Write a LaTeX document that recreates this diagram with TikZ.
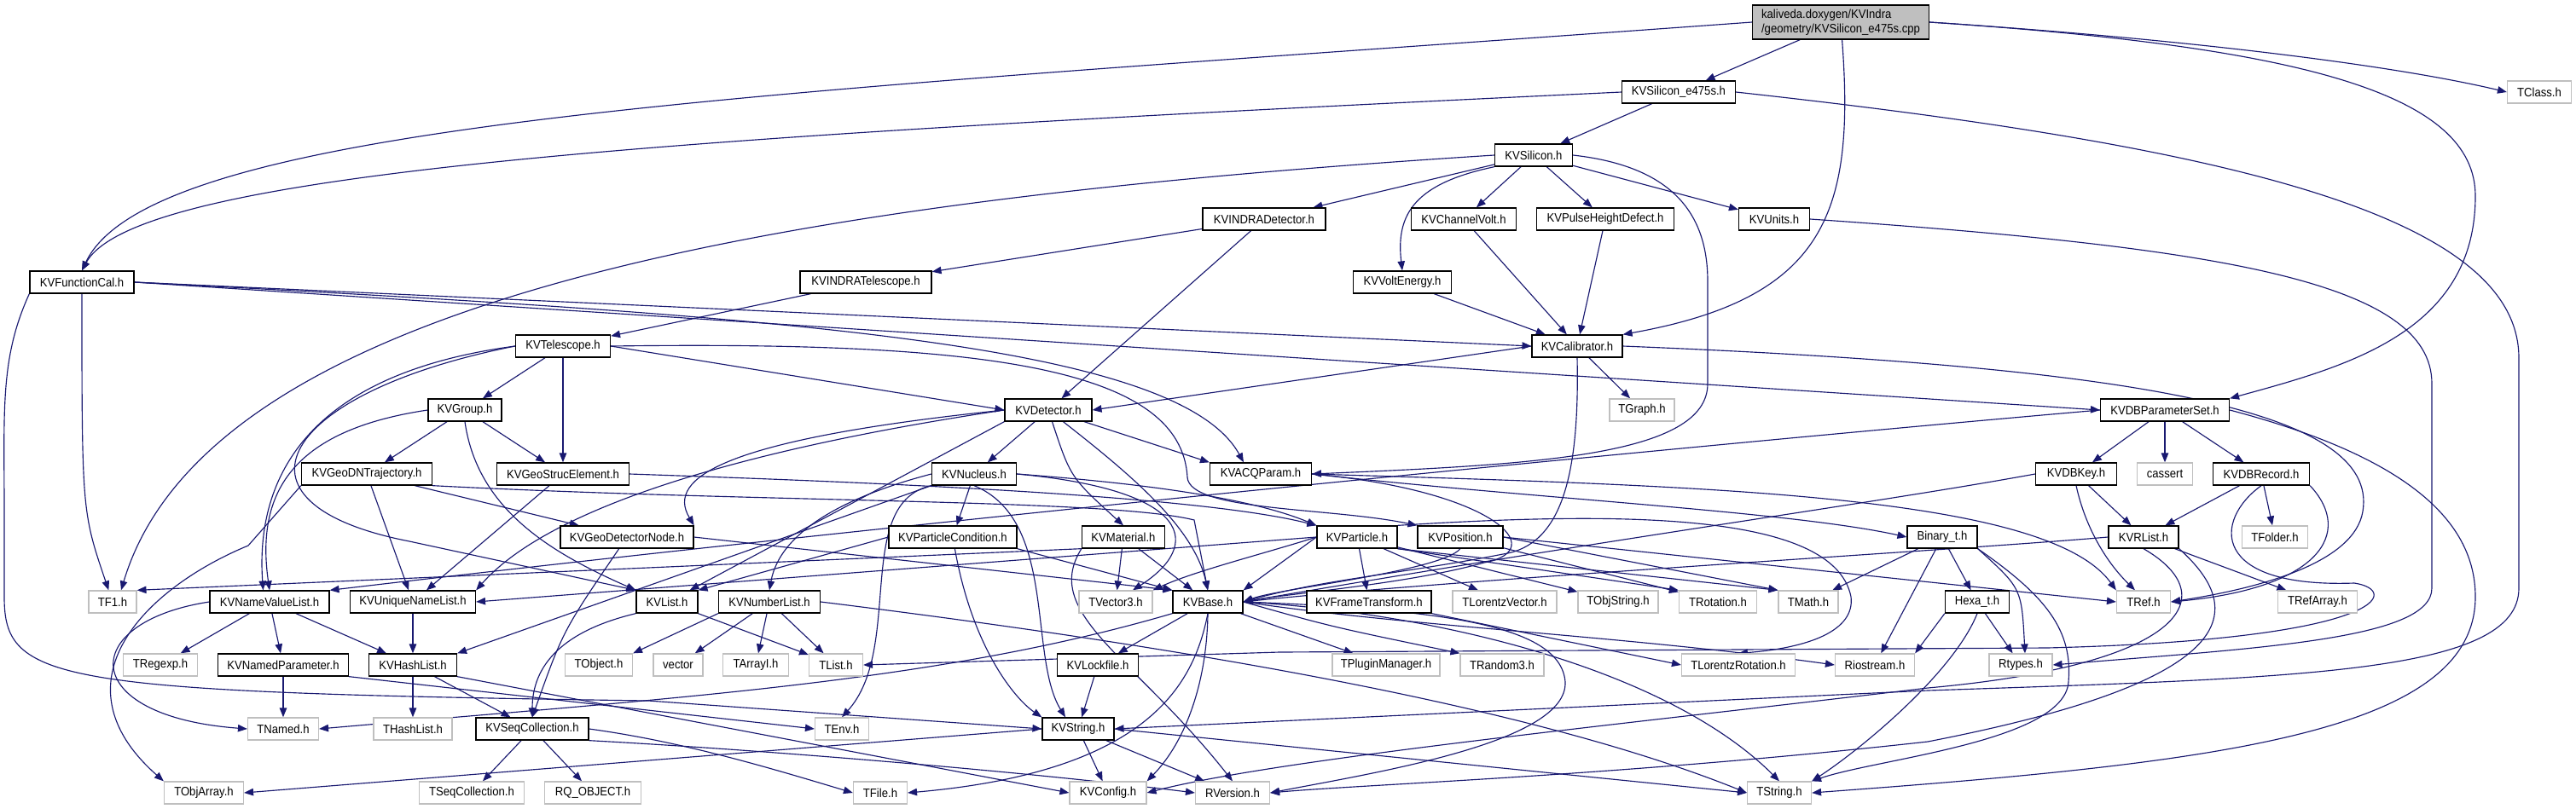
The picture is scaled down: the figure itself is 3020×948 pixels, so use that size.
\documentclass[tikz,border=0pt]{standalone}
\usepackage{fontspec}
\setmainfont{Liberation Sans}[FakeStretch=0.91]
\usetikzlibrary{arrows.meta}
\definecolor{edgeblue}{RGB}{25,25,112}
\definecolor{boxgray}{RGB}{191,191,191}
\pgfdeclarelayer{background}
\pgfsetlayers{background,main}

\begin{document}
\begin{tikzpicture}[
    x=0.02cm, y=-0.02cm,
    hdr/.style={rectangle, draw=black, line width=0.75pt, fill=white, minimum height=0.52cm, inner xsep=1pt, inner ysep=0pt, font=\fontsize{8.2}{9.5}\selectfont},
    ext/.style={hdr, draw=boxgray},
    src/.style={hdr, fill=boxgray, align=left, minimum height=0.8cm},
    dep/.style={-{Triangle[length=6.2pt,width=4.8pt]}, edgeblue, line width=0.65pt}
  ]
  \useasboundingbox (0,0) rectangle (3020,948);

  % top of the graph
  \node[src, minimum width=4.14cm] (root) at (2158,26) {kaliveda.doxygen/KVIndra\\/geometry/KVSilicon\_e475s.cpp};
  \node[hdr, minimum width=2.66cm] (sile) at (1968,108) {KVSilicon\_e475s.h};
  \node[ext, minimum width=1.50cm] (tclass) at (2977,108) {TClass.h};
  \node[hdr, minimum width=1.82cm] (silicon) at (1798,182) {KVSilicon.h};
  \node[hdr, minimum width=2.88cm] (indradet) at (1482,257) {KVINDRADetector.h};
  \node[hdr, minimum width=2.46cm] (chvolt) at (1716,257) {KVChannelVolt.h};
  \node[hdr, minimum width=3.22cm] (phd) at (1882,257) {KVPulseHeightDefect.h};
  \node[hdr, minimum width=1.66cm] (units) at (2080,257) {KVUnits.h};
  \node[hdr, minimum width=2.44cm] (funccal) at (96,331) {KVFunctionCal.h};
  \node[hdr, minimum width=3.08cm] (indratel) at (1015,331) {KVINDRATelescope.h};
  \node[hdr, minimum width=2.30cm] (voltene) at (1644,331) {KVVoltEnergy.h};
  \node[hdr, minimum width=2.22cm] (telescope) at (660,406) {KVTelescope.h};
  \node[hdr, minimum width=2.12cm] (calib) at (1849,406) {KVCalibrator.h};
  \node[hdr, minimum width=1.72cm] (group) at (545,481) {KVGroup.h};
  \node[hdr, minimum width=2.04cm] (detector) at (1229,481) {KVDetector.h};
  \node[ext, minimum width=1.52cm] (tgraph) at (1925,481) {TGraph.h};
  \node[hdr, minimum width=3.02cm] (dbparset) at (2538,481) {KVDBParameterSet.h};

  % middle rows
  \node[hdr, minimum width=3.06cm] (dntraj) at (430,556) {KVGeoDNTrajectory.h};
  \node[hdr, minimum width=3.10cm] (strucel) at (660,556) {KVGeoStrucElement.h};
  \node[hdr, minimum width=1.98cm] (nucleus) at (1142,556) {KVNucleus.h};
  \node[hdr, minimum width=2.38cm] (acqpar) at (1478,556) {KVACQParam.h};
  \node[hdr, minimum width=1.90cm] (dbkey) at (2434,556) {KVDBKey.h};
  \node[ext, minimum width=1.30cm] (cassert) at (2538,556) {cassert};
  \node[hdr, minimum width=2.26cm] (dbrec) at (2651,556) {KVDBRecord.h};
  \node[hdr, minimum width=3.12cm] (detnode) at (735,630) {KVGeoDetectorNode.h};
  \node[hdr, minimum width=3.00cm] (partcond) at (1117,630) {KVParticleCondition.h};
  \node[hdr, minimum width=1.94cm] (material) at (1317,630) {KVMaterial.h};
  \node[hdr, minimum width=1.88cm] (particle) at (1591,630) {KVParticle.h};
  \node[hdr, minimum width=2.00cm] (position) at (1712,630) {KVPosition.h};
  \node[hdr, minimum width=1.64cm] (binary) at (2277,630) {Binary\_t.h};
  \node[hdr, minimum width=1.64cm] (rlist) at (2513,630) {KVRList.h};
  \node[ext, minimum width=1.54cm] (tfolder) at (2667,630) {TFolder.h};

  \node[ext, minimum width=1.12cm] (tf1) at (132,706) {TF1.h};
  \node[hdr, minimum width=2.80cm] (namevl) at (316,706) {KVNameValueList.h};
  \node[hdr, minimum width=2.94cm] (uniqnl) at (484,706) {KVUniqueNameList.h};
  \node[hdr, minimum width=1.44cm] (kvlist) at (782,706) {KVList.h};
  \node[hdr, minimum width=2.38cm] (numlist) at (902,706) {KVNumberList.h};
  \node[ext, minimum width=1.72cm] (tvector3) at (1308,706) {TVector3.h};
  \node[hdr, minimum width=1.64cm] (kvbase) at (1416,706) {KVBase.h};
  \node[hdr, minimum width=2.92cm] (frametr) at (1605,706) {KVFrameTransform.h};
  \node[ext, minimum width=2.44cm] (tlorvec) at (1764,706) {TLorentzVector.h};
  \node[ext, minimum width=1.88cm] (tobjstr) at (1897,706) {TObjString.h};
  \node[ext, minimum width=1.82cm] (trot) at (2014,706) {TRotation.h};
  \node[ext, minimum width=1.40cm] (tmath) at (2120,706) {TMath.h};
  \node[hdr, minimum width=1.50cm] (hexa) at (2318,706) {Hexa\_t.h};
  \node[ext, minimum width=1.26cm] (tref) at (2513,706) {TRef.h};
  \node[ext, minimum width=1.86cm] (trefarr) at (2717,706) {TRefArray.h};

  % bottom rows
  \node[ext, minimum width=1.74cm] (tregexp) at (188,780) {TRegexp.h};
  \node[hdr, minimum width=3.06cm] (namedpar) at (332,780) {KVNamedParameter.h};
  \node[hdr, minimum width=2.06cm] (hashlist) at (484,780) {KVHashList.h};
  \node[ext, minimum width=1.58cm] (tobject) at (702,780) {TObject.h};
  \node[ext, minimum width=1.16cm] (vector) at (795,780) {vector};
  \node[ext, minimum width=1.54cm] (tarrayi) at (886,780) {TArrayI.h};
  \node[ext, minimum width=1.26cm] (tlist) at (980,780) {TList.h};
  \node[hdr, minimum width=1.90cm] (lockfile) at (1287,780) {KVLockfile.h};
  \node[ext, minimum width=2.52cm] (tplugin) at (1625,780) {TPluginManager.h};
  \node[ext, minimum width=1.96cm] (trandom) at (1761,780) {TRandom3.h};
  \node[ext, minimum width=2.66cm] (tlorrot) at (2038,780) {TLorentzRotation.h};
  \node[ext, minimum width=1.86cm] (riostr) at (2198,780) {Riostream.h};
  \node[ext, minimum width=1.48cm] (rtypes) at (2369,780) {Rtypes.h};
  \node[ext, minimum width=1.66cm] (tnamed) at (332,855) {TNamed.h};
  \node[ext, minimum width=1.84cm] (thashl) at (484,855) {THashList.h};
  \node[hdr, minimum width=2.64cm] (seqcoll) at (624,855) {KVSeqCollection.h};
  \node[ext, minimum width=1.26cm] (tenv) at (987,855) {TEnv.h};
  \node[hdr, minimum width=1.68cm] (kvstring) at (1264,855) {KVString.h};
  \node[ext, minimum width=1.86cm] (tobjarr) at (239,930) {TObjArray.h};
  \node[ext, minimum width=2.46cm] (tseqcoll) at (553,930) {TSeqCollection.h};
  \node[ext, minimum width=2.26cm] (rqobj) at (695,930) {RQ\_OBJECT.h};
  \node[ext, minimum width=1.26cm] (tfile) at (1032,930) {TFile.h};
  \node[ext, minimum width=1.80cm] (kvconfig) at (1299,930) {KVConfig.h};
  \node[ext, minimum width=1.74cm] (rversion) at (1445,930) {RVersion.h};
  \node[ext, minimum width=1.50cm] (tstring) at (2086,930) {TString.h};

  \begin{pgfonlayer}{background}
  % source file
  \draw[dep] (root) -- (sile);
  \draw[dep] (root.east) .. controls (2550,45) and (2800,75) .. (tclass.west);
  \draw[dep] (root.west) .. controls (900,110) and (180,140) .. (funccal.north);
  \draw[dep] (root) .. controls (2175,250) and (2140,350) .. (calib.north east);
  \draw[dep] (root.east) .. controls (2700,55) and (2902,110) .. (2902,230) .. controls (2902,390) and (2750,430) .. (dbparset.north east);
  % KVSilicon_e475s.h
  \draw[dep] (sile) -- (silicon);
  \draw[dep] (sile.west) .. controls (800,160) and (160,200) .. (funccal.north);
  \draw[dep] (sile.east) .. controls (2600,170) and (2953,250) .. (2953,420) -- (2953,690) .. controls (2953,790) and (2700,795) .. (2260,810) -- (kvstring.east);
  % KVSilicon.h
  \draw[dep] (silicon) -- (indradet);
  \draw[dep] (silicon) -- (chvolt);
  \draw[dep] (silicon) -- (phd);
  \draw[dep] (silicon) -- (units);
  \draw[dep] (silicon.south west) .. controls (1660,215) and (1636,250) .. (voltene.north);
  \draw[dep] (silicon.west) .. controls (1000,230) and (250,330) .. ([xshift=0.2cm]tf1.north);
  \draw[dep] (silicon.east) .. controls (1960,195) and (2002,250) .. (2002,330) -- (2002,450) .. controls (2002,535) and (1800,545) .. (acqpar.east);
  \draw[dep] (indradet) -- (indratel);
  \draw[dep] (indradet) -- (detector);
  \draw[dep] (chvolt) -- (calib);
  \draw[dep] (phd) -- (calib);
  \draw[dep] (voltene) -- (calib);
  \draw[dep] (units.east) .. controls (2600,290) and (2851,330) .. (2851,450) -- (2851,690) .. controls (2851,750) and (2650,760) .. (rtypes.east);
  \draw[dep] (indratel) -- (telescope);
  % KVFunctionCal.h
  \draw[dep] (funccal) .. controls (96,600) .. (tf1);
  \draw[dep] (funccal.east) -- (calib.west);
  \draw[dep] (funccal.east) -- (dbparset.west);
  \draw[dep] (funccal.east) .. controls (900,370) and (1380,400) .. ([xshift=-0.4cm]acqpar.north);
  \draw[dep] (funccal.south west) .. controls (0,420) and (5,480) .. (5,600) -- (5,700) .. controls (5,800) and (60,812) .. (760,822) -- (kvstring.west);
  % KVTelescope.h
  \draw[dep] (telescope) -- (group);
  \draw[dep] (telescope) -- (strucel);
  \draw[dep] (telescope.east) -- (detector.west);
  \draw[dep] (telescope.west) .. controls (350,440) and (300,570) .. ([xshift=-0.15cm]namevl.north);
  \draw[dep] (telescope.west) .. controls (330,460) and (250,590) .. (480,635) -- (kvlist.north west);
  \draw[dep] (telescope.east) .. controls (1150,400) and (1385,430) .. (1392,560) .. controls (1395,600) and (1560,595) .. (position.north west);
  % KVGroup.h
  \draw[dep] (group) -- (dntraj);
  \draw[dep] (group) -- (strucel);
  \draw[dep] (group.west) .. controls (340,505) and (300,580) .. (namevl.north);
  \draw[dep] (group.south) .. controls (560,600) and (650,650) .. (kvlist.north west);
  % KVDetector.h
  \draw[dep] (detector) -- (nucleus);
  \draw[dep] (detector) -- (acqpar.north west);
  \draw[dep] (detector.west) .. controls (850,515) and (780,560) .. (detnode.north east);
  \draw[dep] (detector.west) .. controls (850,530) and (640,600) .. (uniqnl.north east);
  \draw[dep] (detector.south west) -- ([xshift=-0.2cm]kvlist.north east);
  \draw[dep] (detector) .. controls (1255,560) .. (material.north);
  \draw[dep] (detector) .. controls (1330,560) and (1400,620) .. (kvbase.north);
  % KVCalibrator.h
  \draw[dep] (calib) -- (tgraph);
  \draw[dep] (calib.west) -- (detector.east);
  \draw[dep] (calib.south) .. controls (1852,560) and (1830,640) .. (1762,650) .. controls (1650,672) and (1550,680) .. (kvbase.east);
  \draw[dep] (calib.east) .. controls (2500,430) and (2790,480) .. (2770,600) .. controls (2760,660) and (2650,690) .. (tref.east);
  % data base classes
  \draw[dep] (dbparset) -- (dbkey);
  \draw[dep] (dbparset) -- (cassert);
  \draw[dep] (dbparset) -- (dbrec);
  \draw[dep] (dbparset.east) .. controls (2800,530) and (2902,600) .. (2902,700) .. controls (2902,860) and (2600,895) .. (tstring.east);
  \draw[dep] (dbparset.west) .. controls (1900,530) and (1000,620) .. (namevl.north east);
  \draw[dep] (dbkey) -- (rlist);
  \draw[dep] (dbkey.south) .. controls (2445,620) and (2470,660) .. ([xshift=-0.2cm]tref.north);
  \draw[dep] (dbkey.west) .. controls (2200,590) and (1900,630) .. (kvbase.east);
  \draw[dep] (dbrec) -- (rlist);
  \draw[dep] (dbrec) -- (tfolder);
  \draw[dep] (dbrec.south east) .. controls (2760,625) and (2720,690) .. (tref.east);
  \draw[dep] (dbrec.south) .. controls (2595,610) and (2590,690) .. (2760,684) .. controls (2815,692) and (2800,750) .. (2400,760) -- (1500,765) -- (tlist.east);
  \draw[dep] (rlist) -- (trefarr);
  \draw[dep] (rlist.west) .. controls (2300,645) and (1700,680) .. (kvbase.east);
  \draw[dep] (rlist.south) .. controls (2610,700) and (2560,780) .. (2260,807) .. controls (1900,850) and (1500,890) .. (kvconfig.east);
  \draw[dep] (rlist.south east) .. controls (2640,720) and (2620,800) .. (2260,870) .. controls (1900,910) and (1600,920) .. (rversion.east);
  % Binary_t.h, Hexa_t.h
  \draw[dep] (binary) -- (hexa);
  \draw[dep] (binary) -- (tmath);
  \draw[dep] (binary) -- (riostr);
  \draw[dep] (binary.south east) .. controls (2370,690) .. ([xshift=0.1cm]rtypes.north);
  \draw[dep] (binary.south east) .. controls (2400,700) and (2430,740) .. (2425,800) .. controls (2420,870) and (2200,890) .. (tstring.north east);
  \draw[dep] (hexa) -- (rtypes);
  \draw[dep] (hexa.south west) -- (riostr.north east);
  \draw[dep] (hexa.south) .. controls (2290,790) and (2180,880) .. (tstring.north east);
  % KVACQParam.h
  \draw[dep] (acqpar.east) .. controls (1750,575) and (1820,645) .. (1740,660) .. controls (1650,685) and (1520,695) .. (kvbase.east);
  \draw[dep] (acqpar.east) .. controls (2000,570) and (2400,580) .. (tref.north west);
  \draw[dep] (acqpar.east) .. controls (1800,585) and (2100,600) .. (binary.west);
  % KVNucleus.h
  \draw[dep] (nucleus) -- (partcond);
  \draw[dep] (nucleus.west) .. controls (1000,580) and (915,620) .. (numlist.north);
  \draw[dep] (nucleus.south west) .. controls (1000,590) and (1060,760) .. (tenv.north);
  \draw[dep] (nucleus.south) .. controls (1240,610) and (1205,770) .. ([xshift=-0.3cm]kvstring.north);
  \draw[dep] (nucleus.east) .. controls (1380,570) and (1480,590) .. (particle.north west);
  \draw[dep] (nucleus.east) .. controls (1400,575) and (1410,640) .. ([xshift=0.4cm]tvector3.north);
  \draw[dep] (nucleus.south west) -- (hashlist.north east);
  % KVParticleCondition.h, KVMaterial.h
  \draw[dep] (partcond) .. controls (1140,760) and (1190,820) .. (kvstring.north west);
  \draw[dep] (partcond.south east) -- (kvbase.north west);
  \draw[dep] (partcond.west) -- (kvlist.north east);
  \draw[dep] (material) -- (tvector3);
  \draw[dep] (material) -- (kvbase);
  \draw[dep] (material.south west) -- (tf1.north east);
  \draw[dep] (material.south west) .. controls (1220,720) and (1330,770) .. (rversion.north);
  % KVParticle.h, KVPosition.h
  \draw[dep] (particle) -- (frametr);
  \draw[dep] (particle) -- (tlorvec);
  \draw[dep] (particle) -- (tobjstr);
  \draw[dep] (particle.south east) -- (trot.north west);
  \draw[dep] (particle.south east) -- (tmath.north west);
  \draw[dep] (particle.west) -- (kvbase.north east);
  \draw[dep] (particle.west) .. controls (1480,650) and (1400,670) .. (tvector3.north east);
  \draw[dep] (particle.west) -- (uniqnl.east);
  \draw[dep] (particle.north east) .. controls (1900,600) and (2150,600) .. (2170,700) .. controls (2175,740) and (2120,760) .. (tlorrot.north);
  \draw[dep] (frametr.south east) -- (tlorrot.west);
  \draw[dep] (position) -- (trot);
  \draw[dep] (position.east) -- (tmath.north west);
  \draw[dep] (position.east) -- (tref.west);
  \draw[dep] (position.south) .. controls (1690,670) and (1500,690) .. (kvbase.east);
  % geometry classes
  \draw[dep] (dntraj) -- (detnode);
  \draw[dep] (dntraj) -- (uniqnl);
  \draw[dep] (dntraj.south west) -- (291,640) .. controls (170,690) and (60,800) .. (tobjarr.north west);
  \draw[dep] (dntraj.south east) .. controls (900,590) and (1300,585) .. (1400,610) -- (kvbase.north);
  \draw[dep] (strucel) -- (uniqnl);
  \draw[dep] (strucel.east) .. controls (1000,565) and (1400,580) .. (particle.north west);
  \draw[dep] (detnode) .. controls (660,740) .. (seqcoll.north);
  \draw[dep] (detnode.east) -- (kvbase.north west);
  % lists
  \draw[dep] (namevl) -- (tregexp);
  \draw[dep] (namevl) -- (namedpar);
  \draw[dep] (namevl) -- (hashlist);
  \draw[dep] (namevl.west) .. controls (90,730) and (90,840) .. (tnamed.west);
  \draw[dep] (uniqnl) -- (hashlist);
  \draw[dep] (namedpar) -- (tnamed);
  \draw[dep] (namedpar.south east) -- (tenv.west);
  \draw[dep] (hashlist) -- (thashl);
  \draw[dep] (hashlist) -- (seqcoll);
  \draw[dep] (hashlist.south east) -- (kvconfig.west);
  \draw[dep] (kvlist) -- (tlist);
  \draw[dep] (kvlist.south west) .. controls (660,740) and (624,780) .. (seqcoll.north);
  \draw[dep] (numlist) -- (vector);
  \draw[dep] (numlist) -- (tarrayi);
  \draw[dep] (numlist) -- (tlist);
  \draw[dep] (numlist.south west) -- (tobject.north east);
  \draw[dep] (numlist.east) .. controls (1400,760) and (1800,830) .. (tstring.west);
  \draw[dep] (seqcoll) -- (tseqcoll);
  \draw[dep] (seqcoll) -- (rqobj);
  \draw[dep] (seqcoll.east) .. controls (800,870) and (900,900) .. (tfile.west);
  \draw[dep] (seqcoll.south east) .. controls (900,880) and (1200,905) .. (rversion.west);
  % KVBase.h
  \draw[dep] (kvbase) -- (lockfile);
  \draw[dep] (kvbase.south west) .. controls (1100,800) and (800,818) .. (tnamed.east);
  \draw[dep] (kvbase.south) .. controls (1400,800) and (1350,905) .. (tfile.east);
  \draw[dep] (kvbase.south) .. controls (1415,800) and (1390,870) .. (kvconfig.north east);
  \draw[dep] (kvbase) -- (tplugin);
  \draw[dep] (kvbase.east) .. controls (1560,735) .. (trandom.north west);
  \draw[dep] (kvbase.east) .. controls (1650,735) and (1900,745) .. (riostr.west);
  \draw[dep] (kvbase.east) .. controls (1700,720) and (1960,790) .. (tstring.north);
  \draw[dep] (kvbase.east) .. controls (1700,715) and (1830,735) .. (1835,800) .. controls (1838,870) and (1620,905) .. (rversion.east);
  % KVString.h
  \draw[dep] (lockfile) -- (kvstring);
  \draw[dep] (kvstring) -- (kvconfig);
  \draw[dep] (kvstring) -- (rversion);
  \draw[dep] (kvstring.west) -- (tobjarr.east);
  \draw[dep] (kvstring.east) -- (tstring.west);
  \end{pgfonlayer}
\end{tikzpicture}
\end{document}
